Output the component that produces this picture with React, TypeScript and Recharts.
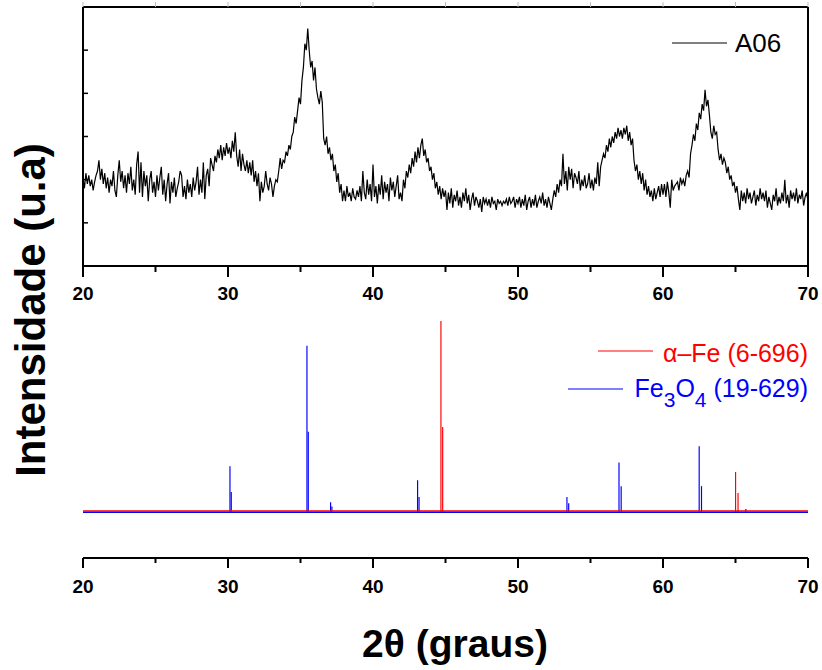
import React from "react";
import {
  ComposedChart,
  LineChart,
  Line,
  Bar,
  XAxis,
  YAxis,
  ReferenceLine,
} from "recharts";

// ---------- DATA ----------
// Sample A06: 2θ scan from 20° to 70° in 0.1° steps (intensity in arbitrary units)
const SCAN_START = 20;
const SCAN_STEP = 0.1;
const a06Intensity: number[] = [
  // 20
  2.05, 1.8, 2.15, 1.9, 2.1, 1.85, 2.0, 1.75, 1.95, 2.1,
  // 21
  2.2, 2.45, 2.0, 2.25, 1.9, 2.15, 1.8, 2.05, 1.7, 2.0,
  // 22
  1.85, 2.2, 1.75, 1.6, 2.1, 2.45, 1.95, 2.2, 1.8, 2.1,
  // 23
  1.7, 2.15, 1.9, 2.3, 1.75, 2.0, 1.65, 2.35, 2.65, 1.7,
  // 24
  2.4, 1.6, 2.2, 1.85, 2.1, 1.5, 2.0, 2.2, 1.7, 1.95,
  // 25
  1.6, 2.1, 1.75, 2.05, 2.3, 1.65, 2.0, 1.5, 1.9, 2.15,
  // 26
  1.45, 1.95, 1.7, 2.05, 1.6, 1.8, 1.95, 2.2, 2.1, 1.6,
  // 27
  1.85, 1.55, 2.0, 1.7, 1.9, 1.6, 2.05, 1.75, 1.95, 2.3,
  // 28
  1.65, 2.0, 1.7, 2.4, 1.55, 2.1, 2.25, 1.85, 2.5, 2.35,
  // 29
  2.2, 2.55, 2.4, 2.7, 2.5, 2.8, 2.45, 2.75, 2.55, 2.85,
  // 30
  2.6, 2.75, 2.5, 2.9, 2.65, 3.1, 2.55, 2.3, 2.7, 2.2,
  // 31
  2.6, 2.35, 2.2, 2.45, 2.15, 2.4, 2.1, 2.45, 1.95, 2.2,
  // 32
  1.85, 2.15, 1.5, 1.95, 1.7, 1.85, 2.2, 1.9, 1.75, 2.05,
  // 33
  1.9, 1.6, 1.85, 2.0, 1.95, 2.2, 2.5, 2.25, 2.45, 2.4,
  // 34
  2.65, 2.55, 2.8, 2.7, 3.0, 3.1, 3.45, 3.3, 3.6, 3.9,
  // 35
  3.75, 4.3, 4.6, 5.15, 5.0, 5.5, 5.0, 4.6, 4.75, 4.3,
  // 36
  4.6, 4.1, 3.9, 3.75, 4.05, 3.8, 2.95, 2.8, 3.0, 2.6,
  // 37
  2.75, 2.45, 2.6, 2.2, 2.35, 1.95, 2.15, 1.7, 1.9, 1.5,
  // 38
  1.75, 1.5, 1.85, 1.6, 1.7, 1.5, 1.8, 1.6, 1.55, 1.75,
  // 39
  1.6, 1.85, 1.5, 2.2, 1.7, 1.55, 2.0, 1.65, 1.9, 1.5,
  // 40
  2.35, 1.6, 1.85, 1.45, 1.9, 1.65, 2.1, 1.55, 1.95, 1.7,
  // 41
  1.9, 1.5, 2.05, 1.75, 1.95, 1.6, 1.85, 2.1, 1.55, 1.7,
  // 42
  1.5, 2.0, 1.8, 2.2, 2.05, 2.35, 2.15, 2.5, 2.3, 2.65,
  // 43
  2.4, 2.75, 2.5, 2.8, 2.95, 2.55, 2.7, 2.4, 2.5, 2.2,
  // 44
  2.3, 2.0, 2.15, 1.8, 1.95, 1.65, 1.85, 1.55, 1.8, 1.6,
  // 45
  1.75, 1.3, 1.7, 1.45, 1.8, 1.35, 1.65, 1.5, 1.75, 1.4,
  // 46
  1.6, 1.35, 1.7, 1.5, 1.8, 1.45, 1.65, 1.3, 1.55, 1.7,
  // 47
  1.4, 1.6, 1.5, 1.35, 1.55, 1.25, 1.6, 1.45, 1.55, 1.4,
  // 48
  1.55, 1.35, 1.6, 1.45, 1.5, 1.3, 1.55, 1.45, 1.5, 1.4,
  // 49
  1.5, 1.45, 1.55, 1.4, 1.6, 1.45, 1.5, 1.6, 1.35, 1.55,
  // 50
  1.45, 1.6, 1.35, 1.55, 1.4, 1.65, 1.3, 1.5, 1.6, 1.35,
  // 51
  1.55, 1.4, 1.65, 1.35, 1.5, 1.6, 1.45, 1.7, 1.4, 1.55,
  // 52
  1.35, 1.6, 1.45, 1.3, 1.55, 1.75, 1.6, 1.9, 1.7, 2.0,
  // 53
  1.85, 2.6, 1.9, 2.2, 1.75, 2.3, 2.0, 2.25, 1.8, 2.15,
  // 54
  2.05, 1.9, 2.2, 1.75, 2.0, 1.85, 2.1, 1.8, 1.9, 2.15,
  // 55
  1.8, 2.0, 1.75, 2.05, 1.9, 2.4, 1.85, 2.3, 2.45, 2.6,
  // 56
  2.5, 2.8, 2.65, 2.95, 2.75, 3.0, 2.85, 3.1, 2.95, 3.2,
  // 57
  3.0, 3.15, 2.95, 3.2, 3.05, 3.25, 2.9, 3.1, 2.8, 2.95,
  // 58
  2.45, 2.2, 2.35, 2.0, 2.2, 1.9, 2.15, 1.75, 2.0, 1.65,
  // 59
  1.85, 1.6, 1.75, 1.5, 1.8, 1.55, 1.7, 1.85, 1.6, 1.9,
  // 60
  1.65, 1.9, 1.6, 1.95, 1.7, 1.35, 2.0, 1.75, 1.85, 1.9,
  // 61
  1.95, 1.75, 2.05, 1.9, 2.0, 1.85, 2.1, 2.2, 2.05, 2.6,
  // 62
  2.8, 3.05, 2.9, 3.3, 3.15, 3.55, 3.4, 3.75, 3.6, 4.08,
  // 63
  3.7, 3.85, 3.5, 3.1, 2.95, 3.25, 3.05, 3.1, 2.7, 2.45,
  // 64
  2.6, 2.35, 2.5, 2.4, 2.15, 2.3, 2.0, 2.1, 1.85, 1.95,
  // 65
  1.7, 1.85, 1.55, 1.3, 1.75, 1.5, 1.7, 1.45, 1.8, 1.55,
  // 66
  1.7, 1.45, 1.6, 1.75, 1.4, 1.65, 1.5, 1.8, 1.55, 1.7,
  // 67
  1.5, 1.75, 1.35, 1.6, 1.45, 1.3, 1.65, 1.5, 1.8, 1.4,
  // 68
  1.6, 1.45, 1.7, 1.5, 2.0, 1.45, 1.65, 1.35, 1.75, 1.55,
  // 69
  1.7, 1.5, 1.8, 1.45, 1.65, 1.55, 1.75, 1.4, 1.6, 1.7,
  // 70
  1.5,
];

// Reference patterns (relative intensity)
const feTheta = [44.69, 44.81, 65.01, 65.18];
const feIntensity = [100, 44.5, 21, 10];
const magTheta = [
  30.14, 30.23, 35.45, 35.54, 37.08, 37.17, 43.08, 43.18, 53.38, 53.5, 56.97,
  57.12, 62.5, 62.66, 65.72,
];
const magIntensity = [
  24, 10.5, 87, 42, 5.2, 3, 16.7, 7.9, 7.9, 4.7, 26, 13.6, 34.5, 13.6, 1.6,
];
const feBaseline = 0.6;
const magBaseline = 0;

// Axis ticks
const xTicks = [20, 25, 30, 35, 40, 45, 50, 55, 60, 65, 70];
const topYTicks = [1, 2, 3, 4, 5];

// Labels
const seriesA06 = "A06";
const seriesFe = "α–Fe (6-696)";
const yTitle = "Intensidade (u.a)";
const xTitle = "2θ (graus)";

// ---------- derived tables ----------
const topData = a06Intensity.map((v, i) => ({
  theta: Math.round((SCAN_START + i * SCAN_STEP) * 10) / 10,
  a06: v,
}));

const peakRows = [
  ...feTheta.map((t, i) => ({ theta: t, fe: feIntensity[i], mag: null as number | null })),
  ...magTheta.map((t, i) => ({ theta: t, fe: null as number | null, mag: magIntensity[i] })),
].sort((a, b) => a.theta - b.theta);

// ---------- styles ----------
const FONT = "'Liberation Sans', Arial, Helvetica, sans-serif";
const RED = "#ff0000";
const BLUE = "#0000ff";

const makeXTick =
  (majorLen: number, minorLen: number, labelDy: number) => (props: any) => {
    const { x, y, payload } = props;
    const v = payload.value;
    const major = v % 10 === 0;
    return (
      <g>
        <line
          x1={x}
          x2={x}
          y1={y}
          y2={y + (major ? majorLen : minorLen)}
          stroke="#000"
          strokeWidth={2}
        />
        {major && (
          <text
            x={x}
            y={y + labelDy}
            textAnchor="middle"
            fontFamily={FONT}
            fontWeight="bold"
            fontSize={19}
            fill="#000"
          >
            {v}
          </text>
        )}
      </g>
    );
  };

const topEdgeTick = (props: any) => {
  const { x, y } = props;
  return <line x1={x} x2={x} y1={y} y2={y - 5} stroke="#bbb" strokeWidth={1} />;
};

const leftInTick = (props: any) => {
  const { x, y } = props;
  return <line x1={x} x2={x + 5} y1={y} y2={y} stroke="#000" strokeWidth={1.5} />;
};

const rightInTick = (props: any) => {
  const { x, y } = props;
  return <line x1={x} x2={x - 4} y1={y} y2={y} stroke="#666" strokeWidth={1} />;
};

export default function App() {
  return (
    <div
      style={{
        position: "absolute",
        left: 0,
        top: 0,
        width: 822,
        height: 670,
        background: "#fff",
        overflow: "hidden",
      }}
    >
      {/* Top panel: measured pattern */}
      <div style={{ position: "absolute", left: 0, top: 0 }}>
        <LineChart
          width={822}
          height={310}
          data={topData}
          margin={{ top: 0, right: 4, left: 73, bottom: 0 }}
        >
          <XAxis
            xAxisId="bottom"
            dataKey="theta"
            type="number"
            domain={[20, 70]}
            ticks={xTicks}
            interval={0}
            height={44}
            axisLine={{ stroke: "#000", strokeWidth: 2 }}
            tickLine={false}
            tickSize={0}
            tickMargin={0}
            tick={makeXTick(11, 6, 34)}
          />
          <XAxis
            xAxisId="top"
            orientation="top"
            dataKey="theta"
            type="number"
            domain={[20, 70]}
            ticks={xTicks}
            interval={0}
            height={7}
            axisLine={{ stroke: "#000", strokeWidth: 2 }}
            tickLine={false}
            tickSize={0}
            tickMargin={0}
            tick={topEdgeTick}
          />
          <YAxis
            yAxisId="left"
            type="number"
            domain={[0, 6]}
            ticks={topYTicks}
            interval={0}
            width={10}
            axisLine={{ stroke: "#000", strokeWidth: 2 }}
            tickLine={false}
            tickSize={0}
            tickMargin={0}
            tick={leftInTick}
          />
          <YAxis
            yAxisId="right"
            orientation="right"
            type="number"
            domain={[0, 6]}
            ticks={topYTicks}
            interval={0}
            width={10}
            axisLine={{ stroke: "#000", strokeWidth: 2 }}
            tickLine={false}
            tickSize={0}
            tickMargin={0}
            tick={rightInTick}
          />
          <Line
            xAxisId="bottom"
            yAxisId="left"
            type="linear"
            dataKey="a06"
            stroke="#000"
            strokeWidth={1.2}
            dot={false}
            isAnimationActive={false}
          />
        </LineChart>
      </div>

      {/* Bottom panel: reference patterns */}
      <div style={{ position: "absolute", left: 0, top: 300 }}>
        <ComposedChart
          width={822}
          height={310}
          data={peakRows}
          margin={{ top: 0, right: 14, left: 83, bottom: 0 }}
        >
          <XAxis
            dataKey="theta"
            type="number"
            domain={[20, 70]}
            ticks={xTicks}
            interval={0}
            height={52}
            axisLine={{ stroke: "#000", strokeWidth: 2 }}
            tickLine={false}
            tickSize={0}
            tickMargin={0}
            tick={makeXTick(10, 5, 35)}
          />
          <YAxis type="number" domain={[-24, 111]} hide />
          <ReferenceLine y={magBaseline} stroke={BLUE} strokeWidth={1.5} />
          <ReferenceLine y={feBaseline} stroke={RED} strokeWidth={1.5} />
          <Bar
            dataKey="mag"
            stackId="p"
            fill={BLUE}
            barSize={2.5}
            isAnimationActive={false}
          />
          <Bar
            dataKey="fe"
            stackId="p"
            fill={RED}
            barSize={2.5}
            isAnimationActive={false}
          />
        </ComposedChart>
      </div>

      {/* Titles and legends */}
      <svg
        width={822}
        height={670}
        style={{ position: "absolute", left: 0, top: 0, pointerEvents: "none" }}
      >
        <line x1={672} x2={727} y1={43} y2={43} stroke="#000" strokeWidth={1} />
        <text x={735} y={52} fontFamily={FONT} fontSize={26} fill="#000">
          {seriesA06}
        </text>

        <line x1={598} x2={653} y1={351} y2={351} stroke={RED} strokeWidth={1} />
        <text
          x={808}
          y={362}
          textAnchor="end"
          fontFamily={FONT}
          fontSize={25}
          fill={RED}
        >
          {seriesFe}
        </text>

        <line x1={568} x2={623} y1={389} y2={389} stroke={BLUE} strokeWidth={1} />
        <text
          x={808}
          y={397}
          textAnchor="end"
          fontFamily={FONT}
          fontSize={25}
          fill={BLUE}
        >
          <tspan>Fe</tspan>
          <tspan dy={10} fontSize={21}>3</tspan>
          <tspan dy={-10}>O</tspan>
          <tspan dy={10} fontSize={21}>4</tspan>
          <tspan dy={-10}> (19-629)</tspan>
        </text>

        <text
          x={45}
          y={310}
          transform="rotate(-90 45 310)"
          textAnchor="middle"
          fontFamily={FONT}
          fontWeight="bold"
          fontSize={42}
          fill="#000"
        >
          {yTitle}
        </text>

        <text
          x={455}
          y={657}
          textAnchor="middle"
          fontFamily={FONT}
          fontWeight="bold"
          fontSize={39}
          fill="#000"
        >
          {xTitle}
        </text>
      </svg>
    </div>
  );
}
